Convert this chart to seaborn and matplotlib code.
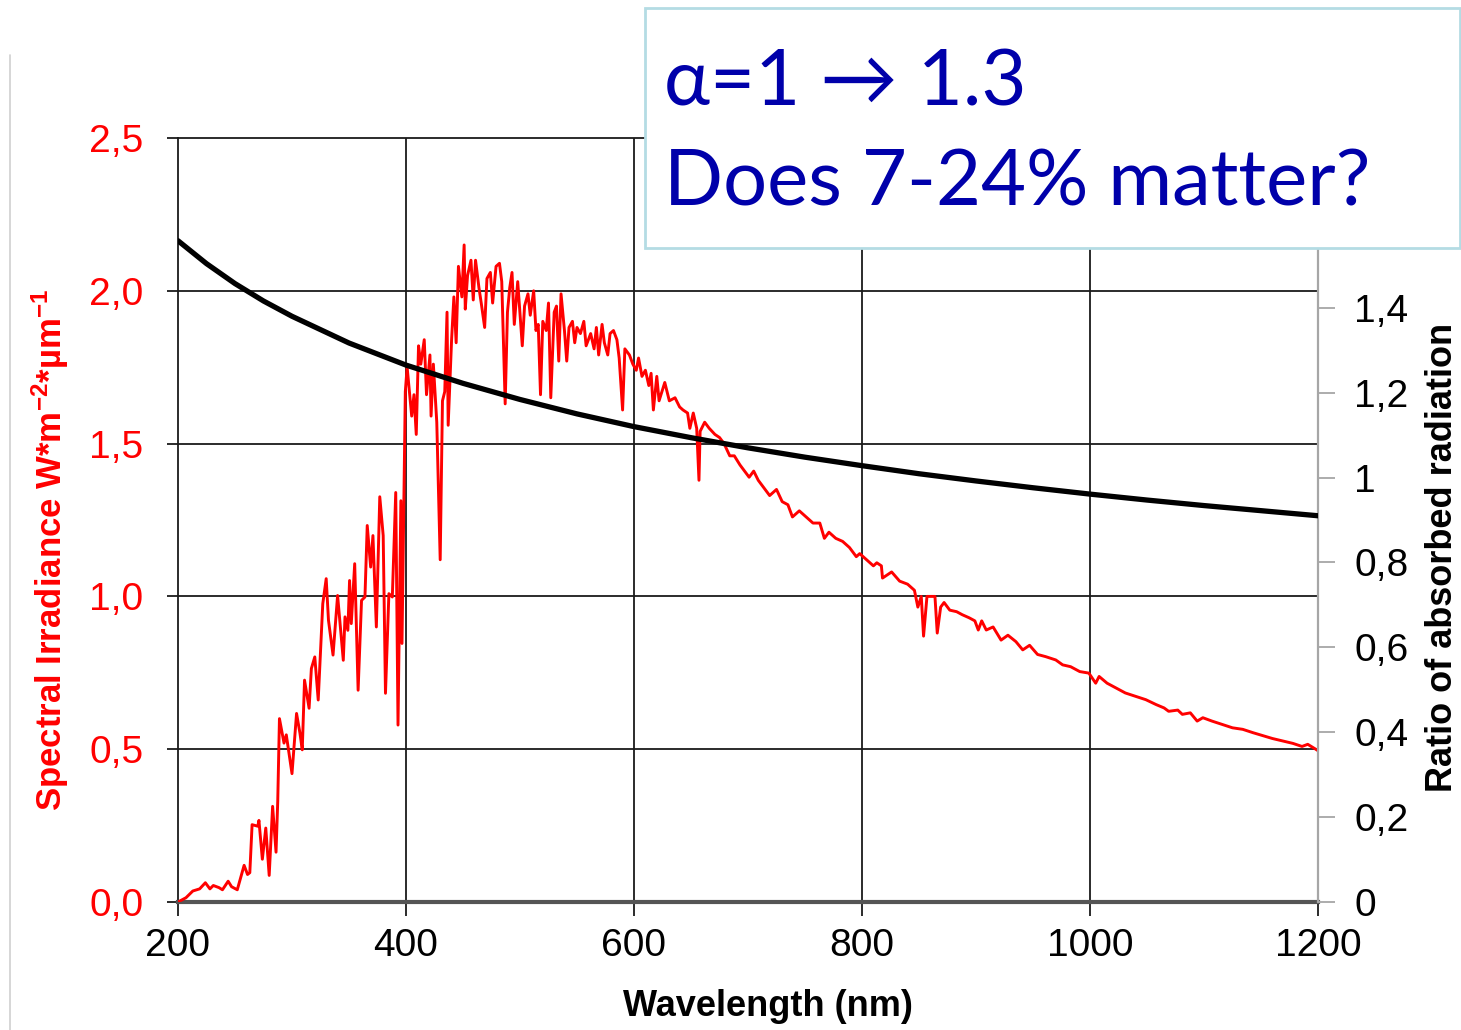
import matplotlib
matplotlib.use("Agg")
import matplotlib.pyplot as plt
import seaborn as sns
import pandas as pd
from matplotlib.patches import Rectangle
from matplotlib.lines import Line2D

# ---------------- data ----------------
wavelength_nm = [
    200, 207, 213, 219, 224, 228, 231, 236, 239, 244, 247, 252, 258, 261, 263, 265,
    270, 271, 274, 277, 280, 283, 286, 287.5, 289, 293, 295, 300, 304, 307, 309, 311,
    315, 317, 320, 323, 327, 330, 332, 336, 340, 345, 346.5, 349, 350.5, 352, 355, 358,
    361, 364, 366, 369, 371, 374, 377, 380, 382, 385, 388, 391, 393, 395.5, 396.5, 399.4,
    401, 403, 405, 407, 409, 411, 413, 416, 418, 421, 422, 424, 427, 430, 432, 434,
    436, 437, 440, 442, 444, 446, 449, 451, 452, 454, 457, 459, 461, 464, 466, 469,
    471, 474, 476, 479, 482, 484, 487, 489, 491, 493, 495, 498, 501, 502, 504, 507,
    509, 512, 514, 516, 518, 520, 523, 525, 527, 530, 532, 534, 536, 539, 541, 543,
    546, 548, 550, 553, 556, 558, 560, 562, 565, 567, 569, 572, 574, 577, 579, 582,
    585, 587, 590, 592, 596, 599, 602, 604, 607, 610, 613, 615, 617, 620, 622, 627,
    631, 636, 640, 643, 647, 649, 652, 655, 657, 658, 662, 666, 671, 675, 679, 684,
    688, 693, 697, 701, 705, 709, 713, 719, 725, 730, 735, 739, 745, 751, 757, 763,
    767, 771, 777, 783, 789, 795, 798, 804, 810, 813, 817, 818, 826, 833, 840, 846,
    849, 852, 854, 857, 861, 864, 866, 869, 872, 877, 883, 888, 894, 899, 902, 905,
    909, 915, 922, 928, 935, 941, 947, 954, 961, 970, 976, 983, 991, 999, 1005, 1008,
    1015, 1023, 1031, 1040, 1049, 1058, 1065, 1069, 1077, 1081, 1088, 1094, 1099, 1107, 1116, 1125,
    1134, 1143, 1151, 1160, 1169, 1178, 1186, 1191, 1198, 1200,
]
spectral_irradiance = [
    0.000, 0.014, 0.036, 0.043, 0.063, 0.043, 0.054, 0.047, 0.040, 0.068, 0.050, 0.040, 0.120, 0.090, 0.096, 0.253,
    0.248, 0.267, 0.140, 0.242, 0.087, 0.313, 0.163, 0.330, 0.600, 0.520, 0.547, 0.420, 0.617, 0.552, 0.498, 0.726,
    0.634, 0.764, 0.802, 0.661, 0.976, 1.058, 0.922, 0.808, 1.003, 0.791, 0.933, 0.889, 1.052, 0.911, 1.107, 0.693,
    0.987, 0.998, 1.232, 1.096, 1.199, 0.900, 1.326, 1.199, 0.683, 1.009, 0.998, 1.340, 0.579, 1.313, 0.846, 1.670,
    1.750, 1.670, 1.590, 1.660, 1.530, 1.820, 1.760, 1.840, 1.660, 1.790, 1.590, 1.760, 1.570, 1.120, 1.640, 1.670,
    1.930, 1.560, 1.840, 1.980, 1.830, 2.080, 1.980, 2.150, 1.940, 2.050, 2.100, 1.970, 2.100, 2.010, 1.960, 1.880,
    2.040, 2.060, 1.960, 2.080, 2.090, 2.030, 1.630, 1.930, 2.010, 2.060, 1.890, 2.030, 1.870, 1.820, 1.950, 1.990,
    1.920, 2.000, 1.870, 1.890, 1.660, 1.900, 1.870, 1.960, 1.650, 1.930, 1.950, 1.770, 1.990, 1.870, 1.770, 1.880,
    1.900, 1.830, 1.880, 1.860, 1.900, 1.820, 1.840, 1.860, 1.810, 1.880, 1.790, 1.890, 1.830, 1.790, 1.860, 1.870,
    1.840, 1.780, 1.610, 1.810, 1.790, 1.760, 1.740, 1.780, 1.720, 1.740, 1.690, 1.730, 1.610, 1.720, 1.640, 1.700,
    1.640, 1.650, 1.620, 1.610, 1.600, 1.550, 1.600, 1.550, 1.380, 1.540, 1.570, 1.550, 1.530, 1.520, 1.500, 1.460,
    1.460, 1.430, 1.410, 1.390, 1.410, 1.380, 1.360, 1.330, 1.350, 1.310, 1.300, 1.260, 1.280, 1.260, 1.240, 1.240,
    1.190, 1.210, 1.190, 1.180, 1.160, 1.130, 1.140, 1.120, 1.100, 1.110, 1.100, 1.060, 1.080, 1.050, 1.040, 1.020,
    0.965, 1.000, 0.870, 1.000, 1.000, 1.000, 0.880, 0.965, 0.980, 0.955, 0.950, 0.940, 0.930, 0.920, 0.890, 0.920,
    0.890, 0.900, 0.857, 0.873, 0.852, 0.825, 0.840, 0.810, 0.803, 0.792, 0.776, 0.770, 0.754, 0.749, 0.716, 0.738,
    0.716, 0.700, 0.684, 0.673, 0.662, 0.646, 0.635, 0.624, 0.628, 0.614, 0.619, 0.592, 0.603, 0.592, 0.581, 0.570,
    0.565, 0.554, 0.545, 0.535, 0.527, 0.519, 0.509, 0.516, 0.500, 0.495,
]
ratio_wavelength_nm = [200, 225, 250, 275, 300, 350, 400, 450, 500, 550, 600, 650,
                       700, 750, 800, 850, 900, 950, 1000, 1050, 1100, 1150, 1200]
absorbed_ratio = [1.558, 1.504, 1.457, 1.416, 1.380, 1.317, 1.265, 1.222, 1.184, 1.150, 1.120, 1.094,
                  1.070, 1.048, 1.028, 1.009, 0.992, 0.976, 0.961, 0.947, 0.934, 0.922, 0.910]

x_ticks = [200, 400, 600, 800, 1000, 1200]
left_ticks = [0.0, 0.5, 1.0, 1.5, 2.0, 2.5]
left_tick_labels = ["0,0", "0,5", "1,0", "1,5", "2,0", "2,5"]
right_ticks = [0, 0.2, 0.4, 0.6, 0.8, 1.0, 1.2, 1.4]
right_tick_labels = ["0", "0,2", "0,4", "0,6", "0,8", "1", "1,2", "1,4"]

x_label = "Wavelength (nm)"
left_label = r"Spectral Irradiance W*m$^{\mathbf{-2}}$*µm$^{\mathbf{-1}}$"
right_label = "Ratio of absorbed radiation"
box_line1 = "α=1 → 1.3"
box_line2 = "Does 7-24% matter?"

spec_df = pd.DataFrame({"wavelength": wavelength_nm, "irradiance": spectral_irradiance})
ratio_df = pd.DataFrame({"wavelength": ratio_wavelength_nm, "ratio": absorbed_ratio})

# ---------------- style ----------------
sns.set_style("white")
plt.rcParams["font.family"] = ["Liberation Sans", "DejaVu Sans"]
plt.rcParams["mathtext.fontset"] = "custom"
plt.rcParams["mathtext.rm"] = "Liberation Sans"
plt.rcParams["mathtext.bf"] = "Liberation Sans:bold"
plt.rcParams["mathtext.it"] = "Liberation Sans:italic"
plt.rcParams["text.color"] = "black"
plt.rcParams["axes.labelcolor"] = "black"

tick_family = ["Liberation Sans", "DejaVu Sans"]
tick_size = 28

fig = plt.figure(figsize=(14.61, 10.30), dpi=100)
ax = fig.add_axes([0.12183, 0.12427, 0.78029, 0.74175])
ax2 = ax.twinx()

ax.set_xlim(200, 1200)
ax.set_ylim(0, 2.5)
ax2.set_ylim(0, 1.8)

# grid lines (interior only)
for gx in x_ticks[1:-1]:
    ax.axvline(gx, color="#1a1a1a", lw=1.3, zorder=0.5)
for gy in left_ticks[1:-1]:
    ax.axhline(gy, color="#1a1a1a", lw=1.3, zorder=0.5)

sns.lineplot(data=spec_df, x="wavelength", y="irradiance", ax=ax, color="#ff0000",
             lw=2.1, estimator=None, sort=False, zorder=3)
sns.lineplot(data=ratio_df, x="wavelength", y="ratio", ax=ax2, color="black",
             lw=3.8, estimator=None, sort=False, zorder=3)

# spines
for s in ["left", "top"]:
    ax.spines[s].set_color("#1a1a1a")
    ax.spines[s].set_linewidth(1.3)
ax.spines["bottom"].set_color("#555555")
ax.spines["bottom"].set_linewidth(3.0)
ax.spines["right"].set_visible(False)
ax2.spines["left"].set_visible(False)
ax2.spines["top"].set_visible(False)
ax2.spines["bottom"].set_visible(False)
ax2.spines["right"].set_color("#a6a6a6")
ax2.spines["right"].set_linewidth(1.6)

# ticks
ax.set_xticks(x_ticks)
ax.set_xticklabels([str(t) for t in x_ticks], family=tick_family, fontsize=tick_size)
ax.set_yticks(left_ticks)
ax.set_yticklabels(left_tick_labels, family=tick_family, fontsize=tick_size)
ax2.set_yticks(right_ticks)
ax2.set_yticklabels(right_tick_labels, family=tick_family, fontsize=tick_size)

ax.tick_params(axis="x", direction="out", length=10, width=1.3, color="#1a1a1a",
               pad=9, labelcolor="black", bottom=True)
ax.tick_params(axis="y", direction="out", length=8, width=1.3, color="#1a1a1a",
               pad=17, labelcolor="#ff0000", left=True)
ax2.tick_params(axis="y", direction="out", length=12, width=1.3, color="#a6a6a6",
                pad=14, labelcolor="black", right=True)

ax.set_xlabel(x_label, fontsize=26, fontweight="bold", color="black", va="center")
ax.xaxis.set_label_coords(0.5175, -0.1374)
ax.set_ylabel(left_label, fontsize=25, fontweight="bold", color="#ff0000", va="center")
ax.yaxis.set_label_coords(-0.1123, 0.461)
ax2.set_ylabel(right_label, fontsize=26, fontweight="bold", color="black",
               rotation=90, va="center")
ax2.yaxis.set_label_coords(1.1096, 0.4516)

# annotation box (figure level, above axes)
box = Rectangle((645 / 1461, 1 - 248 / 1030), (1460 - 645) / 1461, (248 - 8) / 1030,
                transform=fig.transFigure, facecolor="white", edgecolor="#b4dce4",
                lw=2.0, zorder=5)
fig.patches.append(box)
fig.text(664 / 1461, 1 - 106 / 1030, box_line1, fontsize=56, color="#0000aa",
         family=["Lato", "DejaVu Sans"], va="baseline", ha="left", zorder=6)
fig.text(664 / 1461, 1 - 206 / 1030, box_line2, fontsize=56, color="#0000aa",
         family=["Lato", "DejaVu Sans"], va="baseline", ha="left", zorder=6)

# slide border line at left
fig.add_artist(Line2D([10 / 1461, 10 / 1461], [0, 1 - 55 / 1030],
                      transform=fig.transFigure, color="#d0d0d0", lw=1.2))

fig.savefig("out.png", dpi=100)
